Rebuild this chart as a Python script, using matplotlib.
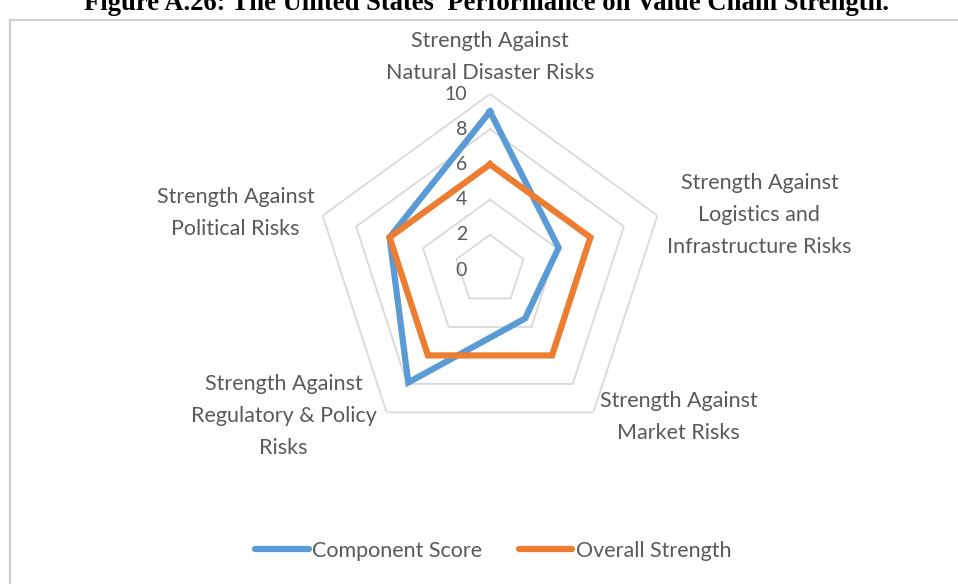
import numpy as np
import matplotlib
matplotlib.use("Agg")
import matplotlib.pyplot as plt
from matplotlib.lines import Line2D

categories = [
    "Strength Against\nNatural Disaster Risks",
    "Strength Against\nLogistics and\nInfrastructure Risks",
    "Strength Against\nMarket Risks",
    "Strength Against\nRegulatory & Policy\nRisks",
    "Strength Against\nPolitical Risks",
]
component_score = [9.0, 4.1, 3.4, 7.9, 6.0]
overall_strength = [6.0, 6.0, 6.0, 6.0, 6.0]
series_names = ["Component Score", "Overall Strength"]
ring_values = [2, 4, 6, 8, 10]
tick_labels = ["0", "2", "4", "6", "8", "10"]
title_text = "Figure A.26: The United States\u2019 Performance on Value Chain Strength."

BLUE = "#5b9bd5"
ORANGE = "#ed7d31"
GRID = "#d9d9d9"
TEXT = "#595959"
FONT = "Lato"

W, H = 958, 584
fig = plt.figure(figsize=(W / 100, H / 100), dpi=100)
fig.patch.set_facecolor("white")

# chart frame (left and top edges)
fig.add_artist(Line2D([9.5 / W, 9.5 / W], [0, 1 - 20 / H], color="#d0d0d0", lw=1.6))
fig.add_artist(Line2D([9.5 / W, 1.0], [1 - 20 / H, 1 - 20 / H], color="#d0d0d0", lw=1.6))

# title, running off the top of the canvas
fig.text(486 / W, 1 - 10 / H, title_text, ha="center", va="baseline",
         fontsize=19.2, fontweight="bold", family="Liberation Serif", color="black")

# radar axes: centre at (490, 270) px, radius 176 px
cx, cy, R = 490, 270, 176
ax = fig.add_axes([(cx - R) / W, 1 - (cy + R) / H, 2 * R / W, 2 * R / H], polar=True)
ax.set_theta_offset(np.pi / 2)
ax.set_theta_direction(-1)
ax.set_ylim(0, 10)
ax.grid(False)
ax.set_xticks([])
ax.set_yticks([])
ax.spines["polar"].set_visible(False)
ax.patch.set_alpha(0)

n = len(categories)
theta = np.linspace(0, 2 * np.pi, n, endpoint=False)
theta_closed = np.concatenate([theta, theta[:1]])

for rv in ring_values:
    ax.plot(theta_closed, [rv] * (n + 1), color=GRID, lw=1.3, zorder=1)

ax.plot(theta_closed, component_score + component_score[:1], color=BLUE, lw=4.5,
        solid_joinstyle="miter", zorder=3)
ax.plot(theta_closed, overall_strength + overall_strength[:1], color=ORANGE, lw=4.5,
        solid_joinstyle="miter", zorder=3)

# radial value labels
for i, lab in enumerate(tick_labels):
    ax.annotate(lab, xy=(0, 2 * i), xytext=(-23, 0), textcoords="offset pixels",
                ha="right", va="center", fontsize=14, color=TEXT, family=FONT,
                annotation_clip=False)

# category labels
label_offsets = [(0, 37), (102, 1), (85, -5), (-103, -4), (-87, 3)]
for th, lab, off in zip(theta, categories, label_offsets):
    ax.annotate(lab, xy=(th, 10), xytext=off, textcoords="offset pixels",
                ha="center", va="center", multialignment="center",
                fontsize=15.5, color=TEXT, family=FONT, linespacing=1.75,
                annotation_clip=False)

handles = [Line2D([], [], color=BLUE, lw=4.5, solid_capstyle="round"),
           Line2D([], [], color=ORANGE, lw=4.5, solid_capstyle="round")]
leg = fig.legend(handles, series_names, loc="center", bbox_to_anchor=(493 / W, 1 - 551 / H),
                 ncol=2, frameon=False, handlelength=2.5, handletextpad=0.15,
                 columnspacing=1.7, prop={"family": FONT, "size": 15.5})
for t in leg.get_texts():
    t.set_color(TEXT)

fig.savefig("out.png", dpi=100, facecolor="white")
